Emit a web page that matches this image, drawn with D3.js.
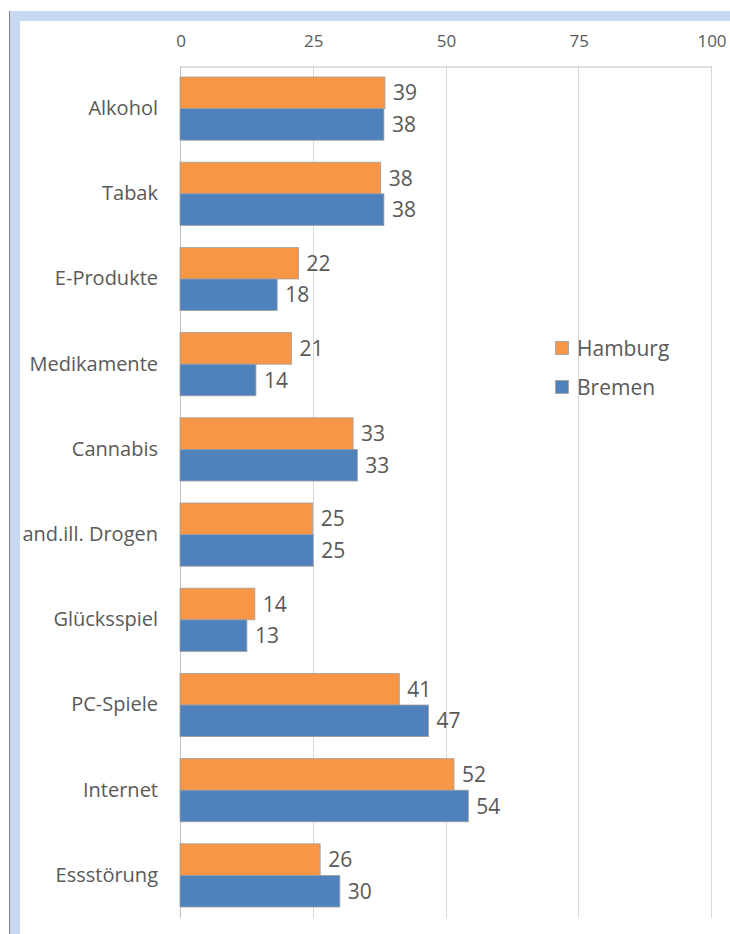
<!DOCTYPE html>
<html>
<head>
<meta charset="utf-8">
<script src="https://cdn.jsdelivr.net/npm/d3@7"></script>
<style>
  html, body { margin: 0; padding: 0; background: #fff; }
  svg { display: block; }
  text { font-family: "Open Sans", "Noto Sans", sans-serif; fill: #595959; }
</style>
</head>
<body>
<svg id="chart" width="730" height="934"></svg>
<script>
const categories = ["Alkohol", "Tabak", "E-Produkte", "Medikamente", "Cannabis",
  "and.ill. Drogen", "Glücksspiel", "PC-Spiele", "Internet", "Essstörung"];
const seriesNames = ["Hamburg", "Bremen"];
const hamburgValues = [38.6, 37.8, 22.3, 21.0, 32.6, 25.0, 14.1, 41.3, 51.6, 26.4];
const bremenValues  = [38.4, 38.4, 18.3, 14.3, 33.4, 25.1, 12.6, 46.8, 54.3, 30.1];
const tickValues = [0, 25, 50, 75, 100];
const seriesColors = ["#f79646", "#4f81bd"];

const svg = d3.select("#chart");
const W = 730, H = 934;

// frame
svg.append("rect").attr("x", 9).attr("y", 11).attr("width", W - 9).attr("height", 10).attr("fill", "#c6d9f1");
svg.append("rect").attr("x", 9).attr("y", 11).attr("width", 11).attr("height", H - 11).attr("fill", "#c6d9f1");
svg.append("line").attr("x1", 9.5).attr("x2", 9.5).attr("y1", 11).attr("y2", H).attr("stroke", "#7f7f7f").attr("stroke-width", 1);

const plot = { left: 180, right: 711, top: 66, bottom: 918 };

const x = d3.scaleLinear().domain([0, 100]).range([plot.left, plot.right]);
const y = d3.scaleBand().domain(categories).range([plot.top, plot.bottom])
  .paddingInner(0.258).paddingOuter(0.129);
const ySub = d3.scaleBand().domain(seriesNames).range([0, y.bandwidth()]).padding(0);

// gridlines
svg.append("g").selectAll("line").data(tickValues.filter(d => d > 0)).join("line")
  .attr("x1", d => Math.round(x(d)) + 0.5).attr("x2", d => Math.round(x(d)) + 0.5)
  .attr("y1", plot.top).attr("y2", plot.bottom)
  .attr("stroke", "#d9d9d9").attr("stroke-width", 1);

// top axis
const xAxis = svg.append("g").attr("transform", `translate(0.5,${plot.top + 0.5})`)
  .call(d3.axisTop(x).tickValues(tickValues).tickSizeInner(0).tickSizeOuter(0).tickPadding(20));
xAxis.attr("font-size", null).attr("font-family", null);
xAxis.select(".domain").attr("stroke", "#bfbfbf");
xAxis.selectAll("text").style("font-size", "17px").attr("fill", "#595959");

// category axis line
svg.append("line").attr("x1", Math.round(x(0)) + 0.5).attr("x2", Math.round(x(0)) + 0.5)
  .attr("y1", plot.top).attr("y2", plot.bottom).attr("stroke", "#bfbfbf");

const rows = categories.map((c, i) => ({
  cat: c,
  vals: [
    { name: seriesNames[0], v: hamburgValues[i], color: seriesColors[0] },
    { name: seriesNames[1], v: bremenValues[i], color: seriesColors[1] }
  ]
}));

const groups = svg.append("g").selectAll("g").data(rows).join("g")
  .attr("transform", d => `translate(0,${y(d.cat)})`);

groups.selectAll("rect").data(d => d.vals).join("rect")
  .attr("x", x(0))
  .attr("y", d => ySub(d.name))
  .attr("width", d => x(d.v) - x(0))
  .attr("height", ySub.bandwidth())
  .attr("fill", d => d.color)
  .attr("stroke", "#a0a0a0").attr("stroke-width", 0.8);

groups.selectAll("text").data(d => d.vals).join("text")
  .attr("x", d => x(d.v) + 8)
  .attr("y", d => ySub(d.name) + ySub.bandwidth() / 2)
  .attr("dy", "0.36em")
  .style("font-size", "21px")
  .text(d => d3.format(".0f")(d.v));

// category labels
const yAxis = svg.append("g").attr("transform", `translate(${plot.left},0)`)
  .call(d3.axisLeft(y).tickSize(0).tickPadding(22));
yAxis.attr("font-size", null).attr("font-family", null);
yAxis.select(".domain").remove();
yAxis.selectAll("text").style("font-size", "20px").attr("fill", "#595959");

// legend
const legend = svg.append("g").selectAll("g").data(seriesNames).join("g")
  .attr("transform", (d, i) => `translate(555,${348 + i * 39})`);
legend.append("rect").attr("x", 0.5).attr("y", -6.5).attr("width", 13).attr("height", 13)
  .attr("fill", (d, i) => seriesColors[i]).attr("stroke", "#a0a0a0").attr("stroke-width", 0.8);
legend.append("text").attr("x", 22).attr("y", 0).attr("dy", "0.36em")
  .style("font-size", "21px").text(d => d);
</script>
</body>
</html>
